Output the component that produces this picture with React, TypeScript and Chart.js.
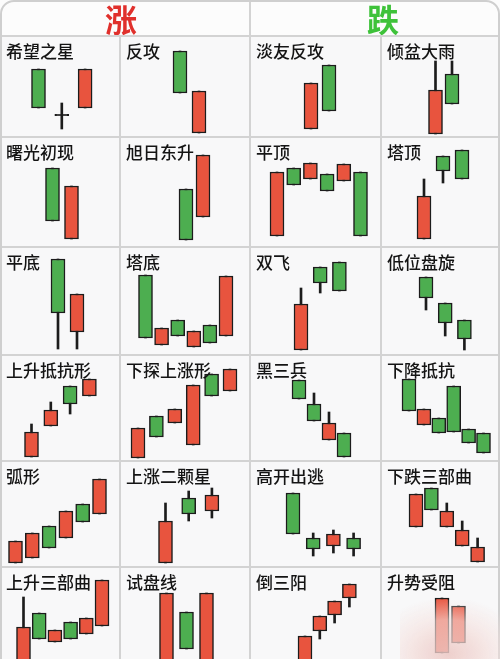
import React, { useEffect, useRef } from "react";
import { Chart, registerables } from "chart.js";

Chart.register(...registerables);

if (typeof document !== "undefined") {
  document.body.style.margin = "0";
}

// Each candle: [open, close, high, low]  (red = close > open, green = close < open)
type Candle = [number, number, number, number];

const headerUp = "涨";
const headerDown = "跌";

const titles = [
  "希望之星", "反攻", "淡友反攻", "倾盆大雨",
  "曙光初现", "旭日东升", "平顶", "塔顶",
  "平底", "塔底", "双飞", "低位盘旋",
  "上升抵抗形", "下探上涨形", "黑三兵", "下降抵抗",
  "弧形", "上涨二颗星", "高开出逃", "下跌三部曲",
  "上升三部曲", "试盘线", "倒三阳", "升势受阻",
];

const xiWangZhiXing: Candle[] = [[68, 29, 68, 29], [22, 22, 34, 8], [29, 68, 68, 29]];
const fanGong: Candle[] = [[86, 44, 86, 44], [4, 46, 46, 4]];
const danYouFanGong: Candle[] = [[8, 54, 54, 8], [72, 26, 72, 26]];
const qingPenDaYu: Candle[] = [[3, 47, 76, 3], [63, 33, 76, 33]];

const shuGuangChuXian: Candle[] = [[79, 26, 79, 26], [8, 61, 61, 8]];
const xuRiDongSheng: Candle[] = [[58, 7, 58, 7], [30, 92, 92, 30]];
const pingDing: Candle[] = [[11, 75, 75, 11], [79, 62, 79, 62], [68, 84, 84, 68], [73, 56, 73, 56], [66, 83, 83, 66], [75, 11, 75, 11]];
const taDing: Candle[] = [[8, 51, 68, 8], [91, 76, 91, 64], [97, 68, 97, 68]];

const pingDi: Candle[] = [[96, 42, 96, 6], [23, 61, 61, 6]];
const taDi: Candle[] = [[80, 17, 80, 17], [10, 27, 27, 10], [35, 19, 35, 19], [8, 24, 24, 8], [30, 12, 30, 12], [19, 79, 79, 19]];
const shuangFei: Candle[] = [[5, 51, 67, 5], [88, 72, 88, 62], [93, 64, 93, 64]];
const diWeiPanXuan: Candle[] = [[78, 57, 78, 45], [52, 32, 52, 19], [35, 16, 35, 5]];

const shangShengDiKang: Candle[] = [[4, 29, 37, 4], [35, 51, 59, 35], [75, 57, 75, 47], [65, 82, 82, 65]];
const xiaTanShangZhang: Candle[] = [[3, 33, 33, 3], [45, 24, 45, 24], [38, 52, 52, 38], [16, 76, 76, 16], [87, 65, 87, 65], [70, 92, 92, 70]];
const heiSanBing: Candle[] = [[81, 62, 81, 62], [57, 40, 68, 40], [21, 38, 49, 21], [28, 4, 28, 4]];
const xiaJiangDiKang: Candle[] = [[82, 50, 82, 50], [36, 52, 52, 36], [43, 28, 43, 28], [75, 29, 75, 29], [32, 18, 32, 18], [28, 8, 28, 8]];

const huXing: Candle[] = [[4, 26, 26, 4], [9, 34, 34, 9], [41, 19, 41, 19], [29, 56, 56, 29], [63, 45, 63, 45], [53, 88, 88, 53]];
const shangZhangErKeXing: Candle[] = [[4, 46, 64, 4], [69, 53, 76, 46], [56, 72, 79, 49]];
const gaoKaiChuTao: Candle[] = [[74, 33, 74, 33], [29, 18, 34, 11], [21, 33, 37, 14], [29, 18, 34, 11]];
const xiaDieSanBuQu: Candle[] = [[40, 73, 73, 40], [79, 57, 79, 57], [40, 56, 64, 40], [21, 37, 46, 21], [5, 20, 29, 5]];

const shangShengSanBuQu: Candle[] = [[0, 46, 76, 0], [60, 34, 60, 34], [31, 43, 43, 31], [51, 34, 51, 34], [39, 55, 55, 39], [47, 93, 93, 47]];
const shiPanXian: Candle[] = [[2, 80, 80, 2], [61, 24, 61, 24], [2, 80, 80, 2]];
const daoSanYang: Candle[] = [[0, 37, 37, 0], [42, 57, 57, 34], [58, 72, 72, 50], [75, 89, 89, 66]];
const shengShiShouZu: Candle[] = [[20, 75, 75, 20], [30, 67, 67, 30]];

const panelCandles: Candle[][] = [
  xiWangZhiXing, fanGong, danYouFanGong, qingPenDaYu,
  shuGuangChuXian, xuRiDongSheng, pingDing, taDing,
  pingDi, taDi, shuangFei, diWeiPanXuan,
  shangShengDiKang, xiaTanShangZhang, heiSanBing, xiaJiangDiKang,
  huXing, shangZhangErKeXing, gaoKaiChuTao, xiaDieSanBuQu,
  shangShengSanBuQu, shiPanXian, daoSanYang, shengShiShouZu,
];

// Layout (pixels)
const colLeft = [0, 120, 250, 381];
const colWidth = [120, 130, 131, 119];
const rowTop = [36, 137, 247, 355, 461, 567];
const rowHeight = [101, 110, 108, 106, 106, 106];
const firstCenter = [
  38.5, 60, 61, 54.5,
  52.5, 66, 27, 43,
  58, 25.5, 51, 45,
  31.5, 18, 49, 28,
  15.5, 45.5, 43, 35,
  23.5, 46.5, 55, 61,
];
const centerStep = [
  23.3, 19, 18, 16.5,
  19, 17, 16.7, 19,
  19, 16.1, 19.2, 19.2,
  19.3, 18.4, 15, 14.9,
  16.8, 23.2, 20.2, 15.4,
  15.7, 20, 14.8, 16.5,
];

const RED = "#e8543e";
const GREEN = "#4dae50";
const INK = "#1c1c1c";
const LINE = "#d3d3d3";

function Panel(props: { idx: number }) {
  const { idx } = props;
  const ref = useRef<HTMLCanvasElement | null>(null);
  const col = idx % 4;
  const row = Math.floor(idx / 4);
  const W = colWidth[col];
  const H = rowHeight[row];
  useEffect(() => {
    if (!ref.current) return;
    const candles = panelCandles[idx];
    const x0 = firstCenter[idx];
    const st = centerStep[idx];
    const bodies = candles.map((c, i) => ({
      x: i,
      y: c[0] === c[1] ? [c[0] - 0.6, c[0] + 0.6] : [Math.min(c[0], c[1]), Math.max(c[0], c[1])],
    }));
    const wicks = candles.map((c, i) => ({ x: i, y: [c[3], c[2]] }));
    const colors = candles.map((c) => (c[1] > c[0] ? RED : c[1] < c[0] ? GREEN : INK));
    const chart = new Chart(ref.current, {
      type: "bar",
      data: {
        datasets: [
          {
            data: bodies as any,
            backgroundColor: colors,
            borderColor: INK,
            borderWidth: 1.5,
            borderSkipped: false,
            barThickness: 14,
            grouped: false,
          } as any,
          {
            data: wicks as any,
            backgroundColor: INK,
            borderWidth: 0,
            barThickness: 2,
            grouped: false,
          } as any,
        ],
      },
      options: {
        animation: false,
        responsive: false,
        maintainAspectRatio: false,
        layout: { padding: 0 },
        plugins: { legend: { display: false }, tooltip: { enabled: false }, title: { display: false } },
        scales: {
          x: { type: "linear", display: false, offset: false, min: -x0 / st, max: (W - x0) / st },
          y: { type: "linear", display: false, min: 0, max: H },
        },
      } as any,
    });
    return () => chart.destroy();
  }, [idx, W, H]);
  return (
    <div
      style={{
        position: "absolute",
        left: colLeft[col],
        top: rowTop[row],
        width: W,
        height: H,
        background: "#f8f8f9",
      }}
    >
      <canvas ref={ref} width={W} height={H} style={{ position: "absolute", left: 0, top: 0, width: W, height: H }} />
      <div
        style={{
          position: "absolute",
          left: 6,
          top: 5,
          fontFamily: "'Noto Sans CJK SC', 'Noto Sans', sans-serif",
          fontSize: 17,
          lineHeight: "20px",
          fontWeight: 500,
          color: "#141414",
          whiteSpace: "nowrap",
        }}
      >
        {titles[idx]}
      </div>
    </div>
  );
}

export default function App() {
  return (
    <div
      style={{
        position: "relative",
        width: 500,
        height: 659,
        overflow: "hidden",
        background: "#fcfcfc",
      }}
    >
      {titles.map((_, i) => (
        <Panel key={i} idx={i} />
      ))}
      {/* header */}
      <div
        style={{
          position: "absolute",
          left: 0,
          top: 0,
          width: 250,
          height: 36,
          textAlign: "center",
          fontFamily: "'Noto Sans CJK SC', sans-serif",
          fontSize: 32,
          fontWeight: 700,
          lineHeight: "36px",
          color: "#e0302c",
        }}
      >
        <span style={{ position: "relative", left: -4 }}>{headerUp}</span>
      </div>
      <div
        style={{
          position: "absolute",
          left: 250,
          top: 0,
          width: 250,
          height: 36,
          textAlign: "center",
          fontFamily: "'Noto Sans CJK SC', sans-serif",
          fontSize: 32,
          fontWeight: 700,
          lineHeight: "36px",
          color: "#3ec23a",
        }}
      >
        <span style={{ position: "relative", left: 8 }}>{headerDown}</span>
      </div>
      {/* grid lines */}
      {rowTop.map((t, i) => (
        <div key={"h" + i} style={{ position: "absolute", left: 0, top: t - 1, width: 500, height: 2, background: LINE }} />
      ))}
      <div style={{ position: "absolute", left: 119, top: 36, width: 2, height: 640, background: LINE }} />
      <div style={{ position: "absolute", left: 249, top: 0, width: 2, height: 659, background: LINE }} />
      <div style={{ position: "absolute", left: 380, top: 36, width: 2, height: 640, background: LINE }} />
      {/* outer frame */}
      <div
        style={{
          position: "absolute",
          left: 0,
          top: 0,
          width: 500,
          height: 700,
          boxSizing: "border-box",
          border: "2px solid #cfcfcf",
          borderRadius: "14px 14px 0 0",
          pointerEvents: "none",
        }}
      />
      {/* watermark blur */}
      <div
        style={{
          position: "absolute",
          left: 400,
          top: 600,
          width: 120,
          height: 90,
          background: "radial-gradient(ellipse at 40% 60%, rgba(236,200,196,0.85) 0%, rgba(245,225,222,0.6) 45%, rgba(250,245,245,0) 75%)",
          pointerEvents: "none",
        }}
      />
    </div>
  );
}
